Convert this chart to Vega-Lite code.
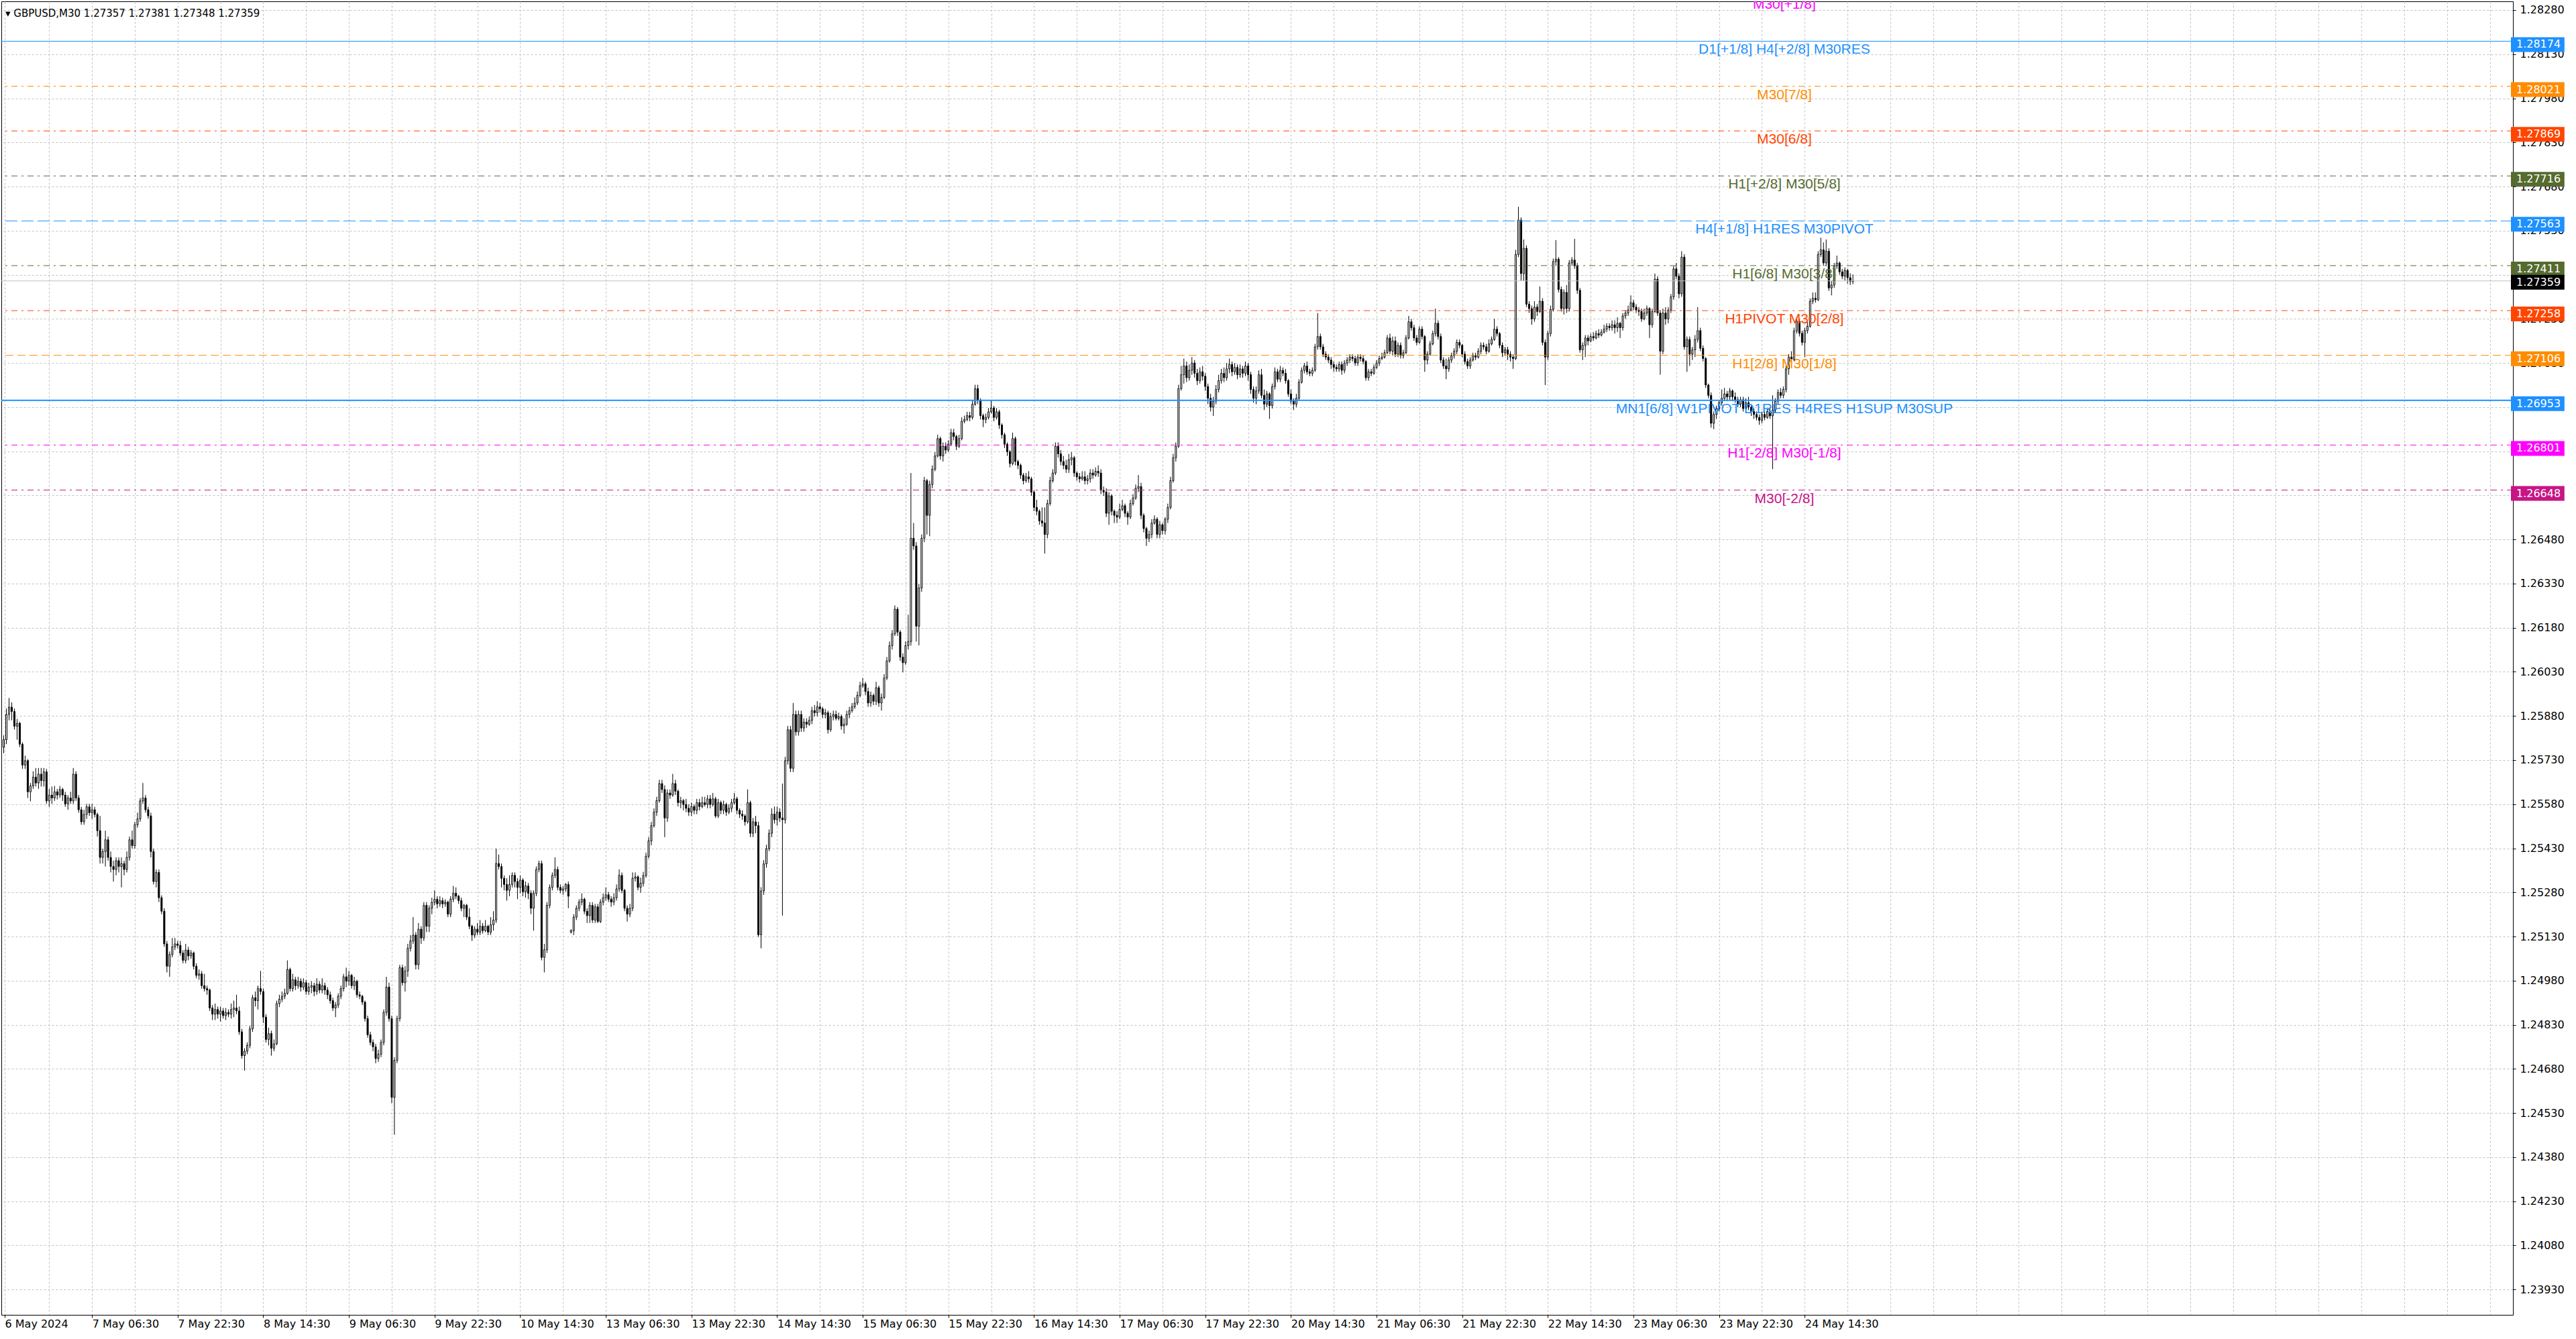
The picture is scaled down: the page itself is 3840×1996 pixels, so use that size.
{
  "$schema": "https://vega.github.io/schema/vega-lite/v6.json",
  "width": 3744,
  "height": 1958,
  "autosize": {"type": "none"},
  "padding": {"left": 2, "top": 2, "right": 94, "bottom": 36},
  "background": "#ffffff",
  "config": {"view": {"stroke": "#000000", "strokeWidth": 1}},
  "title": {"text": "▾ GBPUSD,M30  1.27357 1.27381 1.27348 1.27359", "anchor": "start", "frame": "group", "orient": "top", "offset": -24, "dy": 14, "baseline": "alphabetic", "font": "DejaVu Sans", "fontSize": 15, "fontWeight": "normal", "color": "#000000", "dx": 6},
  "datasets": {
    "levels": [
      {"p": 1.28327, "label": "M30[+1/8]"},
      {"p": 1.28174, "label": "D1[+1/8] H4[+2/8] M30RES"},
      {"p": 1.28021, "label": "M30[7/8]"},
      {"p": 1.27869, "label": "M30[6/8]"},
      {"p": 1.27716, "label": "H1[+2/8] M30[5/8]"},
      {"p": 1.27563, "label": "H4[+1/8] H1RES M30PIVOT"},
      {"p": 1.27411, "label": "H1[6/8] M30[3/8]"},
      {"p": 1.27258, "label": "H1PIVOT M30[2/8]"},
      {"p": 1.27106, "label": "H1[2/8] M30[1/8]"},
      {"p": 1.26953, "label": "MN1[6/8] W1PIVOT D1RES H4RES H1SUP M30SUP"},
      {"p": 1.26801, "label": "H1[-2/8] M30[-1/8]"},
      {"p": 1.26648, "label": "M30[-2/8]"}
    ],
    "bid": [{"p": 1.27359}]
  },
  "layer": [
    {
      "data": {
        "values": "i,o,h,l,c\n0,1.25774,1.25814,1.25753,1.25799\n1,1.25799,1.25905,1.25784,1.25885\n2,1.25885,1.25941,1.25865,1.25910\n3,1.25910,1.25926,1.25865,1.25895\n4,1.25895,1.25905,1.25834,1.25845\n5,1.25845,1.25870,1.25799,1.25855\n6,1.25855,1.25860,1.25774,1.25784\n7,1.25784,1.25790,1.25700,1.25713\n8,1.25713,1.25745,1.25700,1.25728\n9,1.25728,1.25733,1.25601,1.25622\n10,1.25622,1.25652,1.25590,1.25642\n11,1.25642,1.25692,1.25632,1.25672\n12,1.25672,1.25703,1.25640,1.25652\n13,1.25652,1.25703,1.25632,1.25682\n14,1.25682,1.25703,1.25640,1.25660\n15,1.25660,1.25703,1.25640,1.25690\n16,1.25690,1.25700,1.25581,1.25591\n17,1.25591,1.25632,1.25571,1.25611\n18,1.25611,1.25640,1.25581,1.25601\n19,1.25601,1.25642,1.25591,1.25622\n20,1.25622,1.25632,1.25596,1.25611\n21,1.25611,1.25642,1.25601,1.25630\n22,1.25630,1.25636,1.25591,1.25611\n23,1.25611,1.25622,1.25571,1.25581\n24,1.25581,1.25611,1.25561,1.25601\n25,1.25601,1.25622,1.25581,1.25591\n26,1.25591,1.25703,1.25581,1.25682\n27,1.25682,1.25692,1.25591,1.25601\n28,1.25601,1.25611,1.25551,1.25561\n29,1.25561,1.25571,1.25510,1.25520\n30,1.25520,1.25561,1.25510,1.25545\n31,1.25545,1.25581,1.25530,1.25571\n32,1.25571,1.25581,1.25540,1.25551\n33,1.25551,1.25581,1.25530,1.25561\n34,1.25561,1.25571,1.25535,1.25545\n35,1.25545,1.25551,1.25470,1.25490\n36,1.25490,1.25540,1.25378,1.25399\n37,1.25399,1.25429,1.25378,1.25419\n38,1.25419,1.25490,1.25368,1.25459\n39,1.25459,1.25470,1.25388,1.25399\n40,1.25399,1.25419,1.25348,1.25368\n41,1.25368,1.25388,1.25317,1.25358\n42,1.25358,1.25399,1.25338,1.25388\n43,1.25388,1.25399,1.25348,1.25368\n44,1.25368,1.25399,1.25297,1.25378\n45,1.25378,1.25388,1.25338,1.25358\n46,1.25358,1.25419,1.25348,1.25399\n47,1.25399,1.25470,1.25388,1.25459\n48,1.25459,1.25490,1.25429,1.25439\n49,1.25439,1.25520,1.25429,1.25510\n50,1.25510,1.25551,1.25500,1.25530\n51,1.25530,1.25601,1.25520,1.25591\n52,1.25591,1.25652,1.25581,1.25601\n53,1.25601,1.25611,1.25551,1.25561\n54,1.25561,1.25571,1.25530,1.25540\n55,1.25540,1.25551,1.25399,1.25419\n56,1.25419,1.25429,1.25307,1.25317\n57,1.25317,1.25358,1.25297,1.25348\n58,1.25348,1.25358,1.25247,1.25262\n59,1.25262,1.25270,1.25206,1.25216\n60,1.25216,1.25226,1.25095,1.25105\n61,1.25105,1.25115,1.25008,1.25029\n62,1.25029,1.25079,1.24993,1.25069\n63,1.25069,1.25125,1.25059,1.25095\n64,1.25095,1.25125,1.25084,1.25105\n65,1.25105,1.25115,1.25090,1.25100\n66,1.25100,1.25115,1.25064,1.25074\n67,1.25074,1.25084,1.25039,1.25049\n68,1.25049,1.25105,1.25039,1.25084\n69,1.25084,1.25095,1.25049,1.25064\n70,1.25064,1.25084,1.25054,1.25074\n71,1.25074,1.25079,1.25018,1.25029\n72,1.25029,1.25039,1.24988,1.24998\n73,1.24998,1.25018,1.24983,1.25003\n74,1.25003,1.25013,1.24953,1.24963\n75,1.24963,1.25003,1.24943,1.24953\n76,1.24953,1.24963,1.24932,1.24948\n77,1.24948,1.24953,1.24877,1.24887\n78,1.24887,1.24897,1.24846,1.24866\n79,1.24866,1.24902,1.24846,1.24882\n80,1.24882,1.24892,1.24851,1.24866\n81,1.24866,1.24892,1.24841,1.24877\n82,1.24877,1.24887,1.24851,1.24861\n83,1.24861,1.24887,1.24846,1.24872\n84,1.24872,1.24882,1.24856,1.24866\n85,1.24866,1.24902,1.24851,1.24882\n86,1.24882,1.24912,1.24856,1.24887\n87,1.24887,1.24932,1.24866,1.24877\n88,1.24877,1.24892,1.24796,1.24806\n89,1.24806,1.24816,1.24715,1.24725\n90,1.24725,1.24750,1.24674,1.24740\n91,1.24740,1.24770,1.24730,1.24760\n92,1.24760,1.24826,1.24750,1.24816\n93,1.24816,1.24932,1.24806,1.24922\n94,1.24922,1.24943,1.24892,1.24912\n95,1.24912,1.24963,1.24882,1.24953\n96,1.24953,1.25013,1.24932,1.24943\n97,1.24943,1.24953,1.24836,1.24856\n98,1.24856,1.24866,1.24770,1.24780\n99,1.24780,1.24820,1.24760,1.24800\n100,1.24800,1.24810,1.24725,1.24750\n101,1.24750,1.24780,1.24740,1.24765\n102,1.24765,1.24912,1.24760,1.24902\n103,1.24902,1.24932,1.24890,1.24917\n104,1.24917,1.24943,1.24907,1.24927\n105,1.24927,1.24953,1.24917,1.24937\n106,1.24937,1.25049,1.24932,1.25018\n107,1.25018,1.25024,1.24943,1.24953\n108,1.24953,1.25003,1.24943,1.24983\n109,1.24983,1.24993,1.24948,1.24963\n110,1.24963,1.24993,1.24953,1.24978\n111,1.24978,1.24988,1.24943,1.24958\n112,1.24958,1.24988,1.24948,1.24973\n113,1.24973,1.24983,1.24932,1.24943\n114,1.24943,1.24973,1.24932,1.24958\n115,1.24958,1.24978,1.24937,1.24963\n116,1.24963,1.24973,1.24927,1.24943\n117,1.24943,1.24988,1.24932,1.24968\n118,1.24968,1.24978,1.24937,1.24948\n119,1.24948,1.24988,1.24937,1.24963\n120,1.24963,1.24973,1.24932,1.24948\n121,1.24948,1.24958,1.24917,1.24932\n122,1.24932,1.24943,1.24902,1.24912\n123,1.24912,1.24922,1.24877,1.24887\n124,1.24887,1.24907,1.24856,1.24897\n125,1.24897,1.24937,1.24887,1.24927\n126,1.24927,1.24963,1.24917,1.24953\n127,1.24953,1.25003,1.24943,1.24993\n128,1.24993,1.25024,1.24958,1.24978\n129,1.24978,1.25013,1.24963,1.24998\n130,1.24998,1.25003,1.24953,1.24963\n131,1.24963,1.24993,1.24948,1.24978\n132,1.24978,1.24983,1.24922,1.24932\n133,1.24932,1.24943,1.24917,1.24927\n134,1.24927,1.24932,1.24897,1.24907\n135,1.24907,1.24912,1.24841,1.24851\n136,1.24851,1.24861,1.24786,1.24796\n137,1.24796,1.24806,1.24760,1.24770\n138,1.24770,1.24780,1.24740,1.24755\n139,1.24755,1.24765,1.24699,1.24715\n140,1.24715,1.24745,1.24704,1.24730\n141,1.24730,1.24780,1.24720,1.24770\n142,1.24770,1.24882,1.24760,1.24872\n143,1.24872,1.24993,1.24861,1.24958\n144,1.24958,1.24973,1.24841,1.24851\n145,1.24851,1.24861,1.24563,1.24583\n146,1.24583,1.24720,1.24456,1.24709\n147,1.24709,1.24861,1.24699,1.24851\n148,1.24851,1.25034,1.24841,1.25024\n149,1.25024,1.25034,1.24963,1.24973\n150,1.24973,1.25029,1.24943,1.25013\n151,1.25013,1.25105,1.24993,1.25090\n152,1.25090,1.25135,1.25079,1.25115\n153,1.25115,1.25196,1.25105,1.25135\n154,1.25135,1.25145,1.25018,1.25034\n155,1.25034,1.25176,1.25018,1.25155\n156,1.25155,1.25165,1.25105,1.25125\n157,1.25125,1.25247,1.25115,1.25236\n158,1.25236,1.25247,1.25145,1.25165\n159,1.25165,1.25236,1.25145,1.25226\n160,1.25226,1.25262,1.25206,1.25246\n161,1.25246,1.25287,1.25236,1.25257\n162,1.25257,1.25267,1.25226,1.25241\n163,1.25241,1.25267,1.25231,1.25252\n164,1.25252,1.25262,1.25226,1.25241\n165,1.25241,1.25257,1.25231,1.25247\n166,1.25247,1.25252,1.25196,1.25206\n167,1.25206,1.25267,1.25196,1.25257\n168,1.25257,1.25302,1.25247,1.25277\n169,1.25277,1.25297,1.25257,1.25267\n170,1.25267,1.25272,1.25241,1.25252\n171,1.25252,1.25262,1.25216,1.25226\n172,1.25226,1.25241,1.25196,1.25236\n173,1.25236,1.25241,1.25186,1.25196\n174,1.25196,1.25226,1.25155,1.25165\n175,1.25165,1.25170,1.25115,1.25135\n176,1.25135,1.25165,1.25125,1.25155\n177,1.25155,1.25176,1.25135,1.25145\n178,1.25145,1.25186,1.25135,1.25165\n179,1.25165,1.25176,1.25140,1.25150\n180,1.25150,1.25186,1.25145,1.25165\n181,1.25165,1.25170,1.25135,1.25145\n182,1.25145,1.25196,1.25135,1.25170\n183,1.25170,1.25216,1.25150,1.25186\n184,1.25186,1.25429,1.25176,1.25378\n185,1.25378,1.25409,1.25358,1.25368\n186,1.25368,1.25378,1.25297,1.25328\n187,1.25328,1.25338,1.25287,1.25307\n188,1.25307,1.25328,1.25252,1.25287\n189,1.25287,1.25338,1.25267,1.25307\n190,1.25307,1.25348,1.25297,1.25338\n191,1.25338,1.25348,1.25297,1.25317\n192,1.25317,1.25328,1.25257,1.25297\n193,1.25297,1.25338,1.25277,1.25322\n194,1.25322,1.25328,1.25267,1.25282\n195,1.25282,1.25317,1.25262,1.25302\n196,1.25302,1.25312,1.25257,1.25277\n197,1.25277,1.25287,1.25206,1.25226\n198,1.25226,1.25287,1.25150,1.25277\n199,1.25277,1.25368,1.25267,1.25358\n200,1.25358,1.25388,1.25348,1.25378\n201,1.25378,1.25388,1.25049,1.25059\n202,1.25059,1.25105,1.25008,1.25085\n203,1.25085,1.25247,1.25074,1.25236\n204,1.25236,1.25307,1.25226,1.25297\n205,1.25297,1.25348,1.25287,1.25338\n206,1.25338,1.25399,1.25328,1.25358\n207,1.25358,1.25368,1.25287,1.25297\n208,1.25297,1.25307,1.25277,1.25287\n209,1.25287,1.25302,1.25272,1.25292\n210,1.25292,1.25312,1.25282,1.25307\n211,1.25307,1.25317,1.25226,1.25267\n212,1.25145,1.25155,1.25140,1.25150\n213,1.25150,1.25206,1.25135,1.25196\n214,1.25196,1.25236,1.25186,1.25226\n215,1.25226,1.25257,1.25216,1.25247\n216,1.25247,1.25277,1.25236,1.25257\n217,1.25257,1.25262,1.25206,1.25216\n218,1.25216,1.25226,1.25176,1.25201\n219,1.25201,1.25247,1.25176,1.25236\n220,1.25236,1.25247,1.25176,1.25186\n221,1.25186,1.25241,1.25176,1.25231\n222,1.25231,1.25241,1.25176,1.25181\n223,1.25181,1.25257,1.25176,1.25247\n224,1.25247,1.25277,1.25236,1.25262\n225,1.25262,1.25297,1.25252,1.25272\n226,1.25272,1.25282,1.25247,1.25257\n227,1.25257,1.25267,1.25231,1.25247\n228,1.25247,1.25277,1.25236,1.25262\n229,1.25262,1.25307,1.25252,1.25292\n230,1.25292,1.25358,1.25282,1.25338\n231,1.25338,1.25348,1.25277,1.25287\n232,1.25287,1.25292,1.25216,1.25226\n233,1.25226,1.25236,1.25181,1.25206\n234,1.25206,1.25241,1.25196,1.25226\n235,1.25226,1.25348,1.25216,1.25328\n236,1.25328,1.25348,1.25317,1.25333\n237,1.25333,1.25338,1.25287,1.25297\n238,1.25297,1.25330,1.25279,1.25311\n239,1.25311,1.25350,1.25300,1.25337\n240,1.25337,1.25415,1.25330,1.25403\n241,1.25403,1.25468,1.25395,1.25455\n242,1.25455,1.25520,1.25440,1.25507\n243,1.25507,1.25566,1.25500,1.25553\n244,1.25553,1.25605,1.25540,1.25592\n245,1.25592,1.25663,1.25585,1.25650\n246,1.25650,1.25663,1.25618,1.25630\n247,1.25630,1.25644,1.25468,1.25533\n248,1.25533,1.25630,1.25520,1.25618\n249,1.25618,1.25630,1.25598,1.25611\n250,1.25611,1.25683,1.25605,1.25650\n251,1.25650,1.25663,1.25611,1.25624\n252,1.25624,1.25630,1.25572,1.25585\n253,1.25585,1.25605,1.25566,1.25592\n254,1.25592,1.25598,1.25559,1.25579\n255,1.25579,1.25598,1.25553,1.25566\n256,1.25566,1.25579,1.25540,1.25553\n257,1.25553,1.25585,1.25540,1.25572\n258,1.25572,1.25579,1.25546,1.25559\n259,1.25559,1.25598,1.25546,1.25585\n260,1.25585,1.25598,1.25559,1.25572\n261,1.25572,1.25605,1.25566,1.25585\n262,1.25585,1.25605,1.25572,1.25579\n263,1.25579,1.25611,1.25566,1.25598\n264,1.25598,1.25611,1.25566,1.25579\n265,1.25579,1.25618,1.25572,1.25598\n266,1.25598,1.25605,1.25533,1.25540\n267,1.25540,1.25598,1.25533,1.25585\n268,1.25585,1.25592,1.25546,1.25559\n269,1.25559,1.25592,1.25546,1.25579\n270,1.25579,1.25585,1.25540,1.25553\n271,1.25553,1.25579,1.25546,1.25566\n272,1.25566,1.25598,1.25553,1.25585\n273,1.25585,1.25618,1.25579,1.25598\n274,1.25598,1.25605,1.25546,1.25559\n275,1.25559,1.25566,1.25533,1.25546\n276,1.25546,1.25559,1.25527,1.25540\n277,1.25540,1.25546,1.25507,1.25520\n278,1.25520,1.25630,1.25514,1.25585\n279,1.25585,1.25592,1.25468,1.25481\n280,1.25481,1.25533,1.25468,1.25520\n281,1.25520,1.25540,1.25481,1.25507\n282,1.25507,1.25520,1.25129,1.25136\n283,1.25136,1.25298,1.25090,1.25285\n284,1.25285,1.25390,1.25272,1.25377\n285,1.25377,1.25442,1.25364,1.25429\n286,1.25429,1.25494,1.25420,1.25481\n287,1.25481,1.25566,1.25468,1.25546\n288,1.25546,1.25572,1.25514,1.25527\n289,1.25527,1.25572,1.25507,1.25553\n290,1.25553,1.25566,1.25520,1.25533\n291,1.25533,1.25650,1.25201,1.25527\n292,1.25527,1.25741,1.25514,1.25728\n293,1.25728,1.25846,1.25715,1.25833\n294,1.25833,1.25846,1.25689,1.25702\n295,1.25702,1.25924,1.25689,1.25885\n296,1.25885,1.25898,1.25813,1.25826\n297,1.25826,1.25898,1.25813,1.25885\n298,1.25885,1.25898,1.25826,1.25839\n299,1.25839,1.25872,1.25826,1.25859\n300,1.25859,1.25872,1.25839,1.25852\n301,1.25852,1.25878,1.25846,1.25865\n302,1.25865,1.25911,1.25852,1.25898\n303,1.25898,1.25917,1.25878,1.25891\n304,1.25891,1.25930,1.25878,1.25911\n305,1.25911,1.25924,1.25891,1.25904\n306,1.25904,1.25911,1.25872,1.25885\n307,1.25885,1.25904,1.25872,1.25891\n308,1.25891,1.25898,1.25820,1.25833\n309,1.25833,1.25891,1.25826,1.25878\n310,1.25878,1.25898,1.25865,1.25885\n311,1.25885,1.25898,1.25865,1.25872\n312,1.25872,1.25891,1.25865,1.25878\n313,1.25878,1.25885,1.25833,1.25846\n314,1.25846,1.25872,1.25820,1.25852\n315,1.25852,1.25898,1.25846,1.25885\n316,1.25885,1.25911,1.25872,1.25898\n317,1.25898,1.25924,1.25891,1.25911\n318,1.25911,1.25943,1.25904,1.25924\n319,1.25924,1.25963,1.25917,1.25950\n320,1.25950,1.25996,1.25943,1.25983\n321,1.25983,1.26009,1.25976,1.25989\n322,1.25989,1.25996,1.25950,1.25963\n323,1.25963,1.25976,1.25911,1.25924\n324,1.25924,1.25963,1.25911,1.25950\n325,1.25950,1.25956,1.25917,1.25930\n326,1.25930,1.25996,1.25917,1.25976\n327,1.25976,1.25983,1.25911,1.25924\n328,1.25924,1.25956,1.25898,1.25943\n329,1.25943,1.26022,1.25937,1.26009\n330,1.26009,1.26080,1.26002,1.26067\n331,1.26067,1.26133,1.26061,1.26119\n332,1.26119,1.26172,1.26106,1.26159\n333,1.26159,1.26256,1.26152,1.26243\n334,1.26243,1.26250,1.26152,1.26165\n335,1.26165,1.26172,1.26067,1.26080\n336,1.26080,1.26093,1.26028,1.26061\n337,1.26061,1.26133,1.26054,1.26119\n338,1.26119,1.26224,1.26106,1.26133\n339,1.26133,1.26706,1.26119,1.26484\n340,1.26484,1.26536,1.26445,1.26458\n341,1.26458,1.26471,1.26133,1.26185\n342,1.26185,1.26328,1.26120,1.26315\n343,1.26315,1.26497,1.26302,1.26484\n344,1.26484,1.26693,1.26471,1.26680\n345,1.26680,1.26686,1.26497,1.26562\n346,1.26562,1.26680,1.26491,1.26667\n347,1.26667,1.26732,1.26654,1.26719\n348,1.26719,1.26777,1.26712,1.26764\n349,1.26764,1.26836,1.26758,1.26823\n350,1.26823,1.26830,1.26751,1.26764\n351,1.26764,1.26810,1.26745,1.26797\n352,1.26797,1.26810,1.26771,1.26784\n353,1.26784,1.26817,1.26777,1.26804\n354,1.26804,1.26856,1.26797,1.26843\n355,1.26843,1.26856,1.26817,1.26830\n356,1.26830,1.26836,1.26784,1.26797\n357,1.26797,1.26836,1.26791,1.26823\n358,1.26823,1.26895,1.26817,1.26882\n359,1.26882,1.26901,1.26875,1.26888\n360,1.26888,1.26914,1.26882,1.26901\n361,1.26901,1.26914,1.26882,1.26895\n362,1.26895,1.26953,1.26888,1.26940\n363,1.26940,1.27006,1.26934,1.26993\n364,1.26993,1.27006,1.26940,1.26953\n365,1.26953,1.26960,1.26888,1.26901\n366,1.26901,1.26908,1.26862,1.26888\n367,1.26888,1.26908,1.26875,1.26895\n368,1.26895,1.26927,1.26888,1.26914\n369,1.26914,1.26953,1.26908,1.26927\n370,1.26927,1.26934,1.26882,1.26895\n371,1.26895,1.26927,1.26888,1.26914\n372,1.26914,1.26921,1.26856,1.26869\n373,1.26869,1.26875,1.26823,1.26836\n374,1.26836,1.26843,1.26791,1.26804\n375,1.26804,1.26810,1.26764,1.26778\n376,1.26778,1.26784,1.26725,1.26738\n377,1.26738,1.26843,1.26732,1.26823\n378,1.26823,1.26830,1.26732,1.26745\n379,1.26745,1.26751,1.26719,1.26732\n380,1.26732,1.26738,1.26686,1.26699\n381,1.26699,1.26706,1.26667,1.26680\n382,1.26680,1.26706,1.26673,1.26693\n383,1.26693,1.26712,1.26673,1.26686\n384,1.26686,1.26693,1.26628,1.26641\n385,1.26641,1.26647,1.26576,1.26589\n386,1.26589,1.26615,1.26562,1.26576\n387,1.26576,1.26582,1.26530,1.26543\n388,1.26543,1.26589,1.26523,1.26536\n389,1.26536,1.26589,1.26432,1.26497\n390,1.26497,1.26615,1.26484,1.26602\n391,1.26602,1.26693,1.26595,1.26680\n392,1.26680,1.26719,1.26673,1.26706\n393,1.26706,1.26810,1.26699,1.26797\n394,1.26797,1.26810,1.26758,1.26771\n395,1.26771,1.26784,1.26732,1.26745\n396,1.26745,1.26764,1.26719,1.26732\n397,1.26732,1.26751,1.26706,1.26719\n398,1.26719,1.26771,1.26706,1.26751\n399,1.26751,1.26777,1.26732,1.26758\n400,1.26758,1.26764,1.26693,1.26706\n401,1.26706,1.26712,1.26680,1.26693\n402,1.26693,1.26706,1.26673,1.26686\n403,1.26686,1.26712,1.26680,1.26693\n404,1.26693,1.26712,1.26667,1.26680\n405,1.26680,1.26699,1.26667,1.26686\n406,1.26686,1.26719,1.26673,1.26706\n407,1.26706,1.26719,1.26686,1.26699\n408,1.26699,1.26725,1.26693,1.26712\n409,1.26712,1.26732,1.26693,1.26706\n410,1.26706,1.26719,1.26634,1.26647\n411,1.26647,1.26660,1.26628,1.26641\n412,1.26641,1.26654,1.26556,1.26569\n413,1.26569,1.26641,1.26530,1.26628\n414,1.26628,1.26634,1.26562,1.26576\n415,1.26576,1.26582,1.26536,1.26562\n416,1.26562,1.26576,1.26536,1.26556\n417,1.26556,1.26602,1.26549,1.26582\n418,1.26582,1.26615,1.26576,1.26595\n419,1.26595,1.26602,1.26556,1.26569\n420,1.26569,1.26576,1.26530,1.26556\n421,1.26556,1.26615,1.26549,1.26602\n422,1.26602,1.26634,1.26595,1.26621\n423,1.26621,1.26667,1.26615,1.26654\n424,1.26654,1.26699,1.26641,1.26660\n425,1.26660,1.26673,1.26549,1.26562\n426,1.26562,1.26569,1.26504,1.26517\n427,1.26517,1.26523,1.26458,1.26484\n428,1.26484,1.26510,1.26471,1.26497\n429,1.26497,1.26549,1.26484,1.26536\n430,1.26536,1.26562,1.26530,1.26549\n431,1.26549,1.26556,1.26484,1.26497\n432,1.26497,1.26543,1.26484,1.26530\n433,1.26530,1.26536,1.26497,1.26510\n434,1.26510,1.26556,1.26497,1.26549\n435,1.26549,1.26602,1.26536,1.26589\n436,1.26589,1.26693,1.26582,1.26680\n437,1.26680,1.26771,1.26673,1.26758\n438,1.26758,1.26810,1.26745,1.26797\n439,1.26797,1.27006,1.26791,1.26993\n440,1.26993,1.27070,1.26986,1.27040\n441,1.27040,1.27095,1.27010,1.27070\n442,1.27070,1.27085,1.27015,1.27030\n443,1.27030,1.27075,1.27020,1.27055\n444,1.27055,1.27100,1.27040,1.27080\n445,1.27080,1.27090,1.27030,1.27045\n446,1.27045,1.27060,1.27005,1.27020\n447,1.27020,1.27065,1.27010,1.27050\n448,1.27050,1.27070,1.27020,1.27035\n449,1.27035,1.27045,1.26985,1.27000\n450,1.27000,1.27010,1.26940,1.26960\n451,1.26960,1.26975,1.26915,1.26930\n452,1.26930,1.26965,1.26900,1.26950\n453,1.26950,1.27005,1.26940,1.26990\n454,1.26990,1.27040,1.26980,1.27020\n455,1.27020,1.27060,1.27010,1.27045\n456,1.27045,1.27065,1.27015,1.27030\n457,1.27030,1.27080,1.27020,1.27060\n458,1.27060,1.27095,1.27045,1.27075\n459,1.27075,1.27085,1.27035,1.27050\n460,1.27050,1.27080,1.27040,1.27065\n461,1.27065,1.27075,1.27025,1.27040\n462,1.27040,1.27075,1.27030,1.27060\n463,1.27060,1.27070,1.27030,1.27045\n464,1.27045,1.27085,1.27035,1.27070\n465,1.27070,1.27080,1.27020,1.27040\n466,1.27040,1.27050,1.26975,1.26990\n467,1.26990,1.27000,1.26945,1.26960\n468,1.26960,1.27000,1.26940,1.26985\n469,1.26985,1.27055,1.26975,1.27040\n470,1.27040,1.27060,1.26960,1.26970\n471,1.26970,1.26990,1.26920,1.26940\n472,1.26940,1.26985,1.26930,1.26975\n473,1.26975,1.26980,1.26890,1.26935\n474,1.26935,1.27010,1.26925,1.27000\n475,1.27000,1.27065,1.26990,1.27050\n476,1.27050,1.27060,1.27015,1.27025\n477,1.27025,1.27070,1.27015,1.27055\n478,1.27055,1.27065,1.27035,1.27045\n479,1.27045,1.27060,1.27010,1.27020\n480,1.27020,1.27025,1.26965,1.26975\n481,1.26975,1.26990,1.26940,1.26950\n482,1.26950,1.26960,1.26920,1.26940\n483,1.26940,1.26975,1.26930,1.26960\n484,1.26960,1.27025,1.26955,1.27015\n485,1.27015,1.27065,1.27010,1.27055\n486,1.27055,1.27080,1.27045,1.27070\n487,1.27070,1.27085,1.27040,1.27050\n488,1.27050,1.27060,1.27035,1.27045\n489,1.27045,1.27065,1.27035,1.27055\n490,1.27055,1.27145,1.27050,1.27135\n491,1.27135,1.27250,1.27125,1.27170\n492,1.27170,1.27180,1.27125,1.27135\n493,1.27135,1.27145,1.27100,1.27110\n494,1.27110,1.27120,1.27090,1.27100\n495,1.27100,1.27110,1.27080,1.27090\n496,1.27090,1.27100,1.27060,1.27075\n497,1.27075,1.27085,1.27050,1.27065\n498,1.27065,1.27075,1.27050,1.27060\n499,1.27060,1.27085,1.27050,1.27075\n500,1.27075,1.27085,1.27040,1.27055\n501,1.27055,1.27090,1.27045,1.27080\n502,1.27080,1.27100,1.27070,1.27090\n503,1.27090,1.27110,1.27080,1.27100\n504,1.27100,1.27110,1.27085,1.27095\n505,1.27095,1.27105,1.27070,1.27080\n506,1.27080,1.27110,1.27070,1.27100\n507,1.27100,1.27110,1.27085,1.27095\n508,1.27095,1.27105,1.27075,1.27085\n509,1.27085,1.27090,1.27020,1.27030\n510,1.27030,1.27060,1.27020,1.27050\n511,1.27050,1.27060,1.27035,1.27045\n512,1.27045,1.27075,1.27040,1.27065\n513,1.27065,1.27090,1.27060,1.27080\n514,1.27080,1.27105,1.27070,1.27095\n515,1.27095,1.27115,1.27090,1.27100\n516,1.27100,1.27125,1.27095,1.27115\n517,1.27115,1.27175,1.27110,1.27165\n518,1.27165,1.27180,1.27110,1.27120\n519,1.27120,1.27170,1.27105,1.27155\n520,1.27155,1.27170,1.27100,1.27110\n521,1.27110,1.27150,1.27100,1.27140\n522,1.27140,1.27150,1.27095,1.27105\n523,1.27105,1.27125,1.27095,1.27115\n524,1.27115,1.27175,1.27110,1.27165\n525,1.27165,1.27240,1.27160,1.27220\n526,1.27220,1.27230,1.27190,1.27200\n527,1.27200,1.27210,1.27155,1.27165\n528,1.27165,1.27175,1.27140,1.27150\n529,1.27150,1.27205,1.27145,1.27195\n530,1.27195,1.27205,1.27160,1.27170\n531,1.27170,1.27175,1.27050,1.27090\n532,1.27090,1.27120,1.27075,1.27110\n533,1.27110,1.27155,1.27105,1.27145\n534,1.27145,1.27190,1.27140,1.27180\n535,1.27180,1.27265,1.27170,1.27215\n536,1.27215,1.27225,1.27160,1.27170\n537,1.27170,1.27180,1.27080,1.27090\n538,1.27090,1.27100,1.27060,1.27070\n539,1.27070,1.27095,1.27025,1.27060\n540,1.27060,1.27100,1.27050,1.27090\n541,1.27090,1.27115,1.27080,1.27105\n542,1.27105,1.27130,1.27095,1.27120\n543,1.27120,1.27160,1.27110,1.27150\n544,1.27150,1.27160,1.27130,1.27140\n545,1.27140,1.27145,1.27100,1.27110\n546,1.27110,1.27120,1.27075,1.27085\n547,1.27085,1.27095,1.27060,1.27070\n548,1.27070,1.27100,1.27060,1.27090\n549,1.27090,1.27115,1.27085,1.27105\n550,1.27105,1.27115,1.27090,1.27100\n551,1.27100,1.27130,1.27095,1.27120\n552,1.27120,1.27150,1.27110,1.27140\n553,1.27140,1.27150,1.27125,1.27135\n554,1.27135,1.27145,1.27110,1.27120\n555,1.27120,1.27160,1.27115,1.27145\n556,1.27145,1.27170,1.27140,1.27160\n557,1.27160,1.27230,1.27155,1.27195\n558,1.27195,1.27205,1.27170,1.27180\n559,1.27180,1.27185,1.27130,1.27140\n560,1.27140,1.27150,1.27100,1.27115\n561,1.27115,1.27135,1.27105,1.27125\n562,1.27125,1.27135,1.27090,1.27110\n563,1.27110,1.27120,1.27085,1.27100\n564,1.27100,1.27110,1.27060,1.27095\n565,1.27095,1.27465,1.27090,1.27449\n566,1.27449,1.27611,1.27440,1.27566\n567,1.27566,1.27575,1.27360,1.27384\n568,1.27384,1.27500,1.27360,1.27470\n569,1.27470,1.27480,1.27270,1.27280\n570,1.27280,1.27290,1.27250,1.27265\n571,1.27265,1.27275,1.27210,1.27230\n572,1.27230,1.27290,1.27220,1.27270\n573,1.27270,1.27280,1.27240,1.27255\n574,1.27255,1.27340,1.27250,1.27290\n575,1.27290,1.27300,1.27140,1.27150\n576,1.27150,1.27160,1.27005,1.27100\n577,1.27100,1.27190,1.27090,1.27180\n578,1.27180,1.27275,1.27170,1.27262\n579,1.27262,1.27435,1.27255,1.27425\n580,1.27425,1.27498,1.27410,1.27433\n581,1.27433,1.27440,1.27320,1.27330\n582,1.27330,1.27340,1.27255,1.27265\n583,1.27265,1.27330,1.27245,1.27320\n584,1.27320,1.27345,1.27250,1.27265\n585,1.27265,1.27430,1.27255,1.27420\n586,1.27420,1.27440,1.27410,1.27430\n587,1.27430,1.27502,1.27400,1.27410\n588,1.27410,1.27420,1.27315,1.27327\n589,1.27327,1.27335,1.27115,1.27125\n590,1.27125,1.27150,1.27090,1.27140\n591,1.27140,1.27175,1.27100,1.27165\n592,1.27165,1.27175,1.27140,1.27155\n593,1.27155,1.27180,1.27150,1.27170\n594,1.27170,1.27185,1.27155,1.27165\n595,1.27165,1.27190,1.27160,1.27180\n596,1.27180,1.27195,1.27165,1.27175\n597,1.27175,1.27195,1.27170,1.27185\n598,1.27185,1.27210,1.27180,1.27195\n599,1.27195,1.27215,1.27185,1.27205\n600,1.27205,1.27215,1.27190,1.27200\n601,1.27200,1.27225,1.27190,1.27210\n602,1.27210,1.27225,1.27180,1.27200\n603,1.27200,1.27235,1.27185,1.27215\n604,1.27215,1.27220,1.27165,1.27200\n605,1.27200,1.27250,1.27190,1.27240\n606,1.27240,1.27260,1.27230,1.27250\n607,1.27250,1.27275,1.27240,1.27260\n608,1.27260,1.27310,1.27255,1.27285\n609,1.27285,1.27295,1.27260,1.27270\n610,1.27270,1.27280,1.27250,1.27260\n611,1.27260,1.27270,1.27240,1.27255\n612,1.27255,1.27265,1.27220,1.27230\n613,1.27230,1.27265,1.27225,1.27250\n614,1.27250,1.27275,1.27240,1.27265\n615,1.27265,1.27270,1.27165,1.27210\n616,1.27210,1.27265,1.27200,1.27255\n617,1.27255,1.27384,1.27250,1.27365\n618,1.27365,1.27375,1.27240,1.27250\n619,1.27250,1.27260,1.27040,1.27120\n620,1.27120,1.27265,1.27110,1.27250\n621,1.27250,1.27270,1.27210,1.27230\n622,1.27230,1.27270,1.27215,1.27260\n623,1.27260,1.27315,1.27250,1.27305\n624,1.27305,1.27410,1.27295,1.27400\n625,1.27400,1.27420,1.27365,1.27375\n626,1.27375,1.27385,1.27300,1.27315\n627,1.27315,1.27460,1.27305,1.27440\n628,1.27440,1.27450,1.27125,1.27135\n629,1.27135,1.27170,1.27050,1.27160\n630,1.27160,1.27170,1.27070,1.27110\n631,1.27110,1.27135,1.27090,1.27125\n632,1.27125,1.27175,1.27100,1.27160\n633,1.27160,1.27270,1.27150,1.27190\n634,1.27190,1.27200,1.27120,1.27130\n635,1.27130,1.27140,1.27085,1.27095\n636,1.27095,1.27100,1.26995,1.27005\n637,1.27005,1.27010,1.26960,1.26970\n638,1.26970,1.26980,1.26860,1.26875\n639,1.26875,1.26915,1.26855,1.26905\n640,1.26905,1.26935,1.26890,1.26925\n641,1.26925,1.26955,1.26915,1.26945\n642,1.26945,1.26990,1.26935,1.26960\n643,1.26960,1.26995,1.26950,1.26975\n644,1.26975,1.26985,1.26950,1.26965\n645,1.26965,1.26995,1.26955,1.26985\n646,1.26985,1.26990,1.26950,1.26965\n647,1.26965,1.26980,1.26945,1.26955\n648,1.26955,1.26965,1.26930,1.26940\n649,1.26940,1.26965,1.26930,1.26955\n650,1.26955,1.26965,1.26915,1.26925\n651,1.26925,1.26960,1.26920,1.26945\n652,1.26945,1.26965,1.26920,1.26930\n653,1.26930,1.26940,1.26900,1.26915\n654,1.26915,1.26925,1.26890,1.26905\n655,1.26905,1.26915,1.26885,1.26895\n656,1.26895,1.26905,1.26870,1.26885\n657,1.26885,1.26915,1.26875,1.26905\n658,1.26905,1.26915,1.26885,1.26895\n659,1.26895,1.26925,1.26890,1.26915\n660,1.26915,1.26925,1.26890,1.26900\n661,1.26900,1.26970,1.26719,1.26920\n662,1.26920,1.26960,1.26910,1.26950\n663,1.26950,1.26990,1.26940,1.26980\n664,1.26980,1.26995,1.26960,1.26970\n665,1.26970,1.27000,1.26960,1.26990\n666,1.26990,1.27070,1.26980,1.27060\n667,1.27060,1.27110,1.27040,1.27100\n668,1.27100,1.27120,1.27085,1.27092\n669,1.27092,1.27200,1.27085,1.27189\n670,1.27189,1.27235,1.27180,1.27222\n671,1.27222,1.27230,1.27170,1.27181\n672,1.27181,1.27190,1.27140,1.27150\n673,1.27150,1.27200,1.27100,1.27190\n674,1.27190,1.27220,1.27180,1.27205\n675,1.27205,1.27300,1.27200,1.27290\n676,1.27290,1.27320,1.27280,1.27300\n677,1.27300,1.27320,1.27285,1.27295\n678,1.27295,1.27460,1.27290,1.27449\n679,1.27449,1.27506,1.27440,1.27465\n680,1.27465,1.27490,1.27410,1.27420\n681,1.27420,1.27500,1.27410,1.27460\n682,1.27460,1.27470,1.27325,1.27335\n683,1.27335,1.27360,1.27310,1.27345\n684,1.27345,1.27420,1.27335,1.27410\n685,1.27410,1.27445,1.27400,1.27420\n686,1.27420,1.27425,1.27380,1.27390\n687,1.27390,1.27400,1.27365,1.27375\n688,1.27375,1.27405,1.27360,1.27395\n689,1.27395,1.27400,1.27350,1.27370\n690,1.27370,1.27385,1.27345,1.27357\n691,1.27357,1.27381,1.27348,1.27359",
        "format": {"type": "csv", "parse": {"i": "number", "o": "number", "h": "number", "l": "number", "c": "number"}}
      },
      "encoding": {
        "x": {
          "field": "i", "type": "quantitative",
          "scale": {"domain": [0.375, 936.375], "nice": false, "zero": false},
          "axis": {
            "title": null, "orient": "bottom",
            "values": [0.375, 17, 33, 49, 65, 81, 97, 113, 129, 145, 161, 177, 193, 209, 225, 241, 257, 273, 289, 305, 321, 337, 353, 369, 385, 401, 417, 433, 449, 465, 481, 497, 513, 529, 545, 561, 577, 593, 609, 625, 641, 657, 673, 689, 705, 721, 737, 753, 769, 785, 801, 817, 833, 849, 865, 881, 897, 913, 929],
            "labelExpr": "datum.value < 1 ? '6 May 2024' : ((datum.value <= 673 && (datum.value - 33) % 32 == 0) ? ['7 May 06:30','7 May 22:30','8 May 14:30','9 May 06:30','9 May 22:30','10 May 14:30','13 May 06:30','13 May 22:30','14 May 14:30','15 May 06:30','15 May 22:30','16 May 14:30','17 May 06:30','17 May 22:30','20 May 14:30','21 May 06:30','21 May 22:30','22 May 14:30','23 May 06:30','23 May 22:30','24 May 14:30'][(datum.value - 33) / 32] : '')",
            "labelAlign": "left", "labelBaseline": "top", "labelFont": "DejaVu Sans", "labelFontSize": 16, "labelColor": "#000000",
            "labelPadding": 1, "labelOverlap": false, "labelFlush": false, "labelBound": false,
            "tickSize": 4, "tickColor": "#000000", "tickWidth": 1,
            "tickOpacity": {"condition": {"test": "datum.value < 1 || (datum.value <= 673 && (datum.value - 33) % 32 == 0)", "value": 1}, "value": 0},
            "domainColor": "#000000", "domainWidth": 1,
            "grid": true, "gridColor": "#c0c0c0", "gridDash": [3, 3], "gridWidth": 1
          }
        }
      },
      "layer": [
        {
          "mark": {"type": "rule", "color": "#000000", "strokeWidth": 1},
          "encoding": {
            "y": {
              "field": "l", "type": "quantitative",
              "scale": {"domain": [1.238551, 1.282982], "nice": false, "zero": false},
              "axis": {
                "title": null, "orient": "right",
                "values": [1.2393, 1.2408, 1.2423, 1.2438, 1.2453, 1.2468, 1.2483, 1.2498, 1.2513, 1.2528, 1.2543, 1.2558, 1.2573, 1.2588, 1.2603, 1.2618, 1.2633, 1.2648, 1.2663, 1.2678, 1.2693, 1.2708, 1.2723, 1.2738, 1.2753, 1.2768, 1.2783, 1.2798, 1.2813, 1.2828],
                "format": ".5f",
                "labelFont": "DejaVu Sans", "labelFontSize": 16, "labelColor": "#000000",
                "labelPadding": 6, "labelOverlap": false, "labelFlush": false, "labelBound": false,
                "tickSize": 4, "tickColor": "#000000", "tickWidth": 1,
                "domainColor": "#000000", "domainWidth": 1,
                "grid": true, "gridColor": "#c0c0c0", "gridDash": [3, 3], "gridWidth": 1
              }
            },
            "y2": {"field": "h"}
          }
        },
        {
          "mark": {"type": "bar", "size": 2, "stroke": "#000000", "strokeWidth": 1},
          "encoding": {
            "y": {"field": "o", "type": "quantitative", "scale": {"domain": [1.238551, 1.282982], "nice": false, "zero": false}},
            "y2": {"field": "c"},
            "fill": {"condition": {"test": "datum.c >= datum.o", "value": "#ffffff"}, "value": "#000000"}
          }
        }
      ]
    },
    {
      "data": {"name": "levels"},
      "mark": {"type": "rule", "clip": true},
      "encoding": {
        "y": {"field": "p", "type": "quantitative", "scale": {"domain": [1.238551, 1.282982], "nice": false, "zero": false}},
        "color": {
          "field": "label", "type": "nominal", "legend": null,
          "scale": {
            "domain": ["M30[+1/8]", "D1[+1/8] H4[+2/8] M30RES", "M30[7/8]", "M30[6/8]", "H1[+2/8] M30[5/8]", "H4[+1/8] H1RES M30PIVOT", "H1[6/8] M30[3/8]", "H1PIVOT M30[2/8]", "H1[2/8] M30[1/8]", "MN1[6/8] W1PIVOT D1RES H4RES H1SUP M30SUP", "H1[-2/8] M30[-1/8]", "M30[-2/8]"],
            "range": ["#FF00FF", "#1E90FF", "#FF8C00", "#FF4500", "#556B2F", "#1E90FF", "#556B2F", "#FF4500", "#FF8C00", "#1E90FF", "#FF00FF", "#C71585"]
          }
        },
        "strokeDash": {
          "field": "label", "type": "nominal", "legend": null,
          "scale": {
            "domain": ["M30[+1/8]", "D1[+1/8] H4[+2/8] M30RES", "M30[7/8]", "M30[6/8]", "H1[+2/8] M30[5/8]", "H4[+1/8] H1RES M30PIVOT", "H1[6/8] M30[3/8]", "H1PIVOT M30[2/8]", "H1[2/8] M30[1/8]", "MN1[6/8] W1PIVOT D1RES H4RES H1SUP M30SUP", "H1[-2/8] M30[-1/8]", "M30[-2/8]"],
            "range": [[9, 6, 3, 6], [1, 0], [9, 6, 3, 6], [9, 6, 3, 6], [9, 6, 3, 6], [18, 6], [9, 6, 3, 6], [9, 6, 3, 6], [12, 6], [1, 0], [9, 6, 3, 6], [9, 6, 3, 6]]
          }
        },
        "strokeWidth": {"condition": {"test": "datum.p == 1.26953", "value": 2}, "value": 1}
      }
    },
    {
      "data": {"name": "bid"},
      "mark": {"type": "rule", "color": "#c0c0c0", "strokeWidth": 1},
      "encoding": {
        "y": {"field": "p", "type": "quantitative", "scale": {"domain": [1.238551, 1.282982], "nice": false, "zero": false}}
      }
    },
    {
      "data": {"name": "levels"},
      "mark": {"type": "text", "clip": true, "align": "center", "baseline": "alphabetic", "dy": 19, "font": "Liberation Sans", "fontSize": 21},
      "encoding": {
        "x": {"datum": 665.375, "type": "quantitative", "scale": {"domain": [0.375, 936.375], "nice": false, "zero": false}},
        "y": {"field": "p", "type": "quantitative", "scale": {"domain": [1.238551, 1.282982], "nice": false, "zero": false}},
        "text": {"field": "label", "type": "nominal"},
        "color": {"field": "label", "type": "nominal", "legend": null}
      }
    },
    {
      "data": {"name": "levels"},
      "transform": [{"filter": "datum.p < 1.2829"}],
      "layer": [
        {
          "mark": {"type": "bar", "orient": "horizontal", "size": 22, "yOffset": 5},
          "encoding": {
            "x": {"datum": 936.875, "type": "quantitative", "scale": {"domain": [0.375, 936.375], "nice": false, "zero": false}},
            "x2": {"datum": 956.875},
            "y": {"field": "p", "type": "quantitative", "scale": {"domain": [1.238551, 1.282982], "nice": false, "zero": false}},
            "color": {"field": "label", "type": "nominal", "legend": null}
          }
        },
        {
          "mark": {"type": "text", "align": "left", "baseline": "middle", "font": "DejaVu Sans", "fontSize": 16, "color": "#ffffff", "yOffset": 5},
          "encoding": {
            "x": {"datum": 938.875, "type": "quantitative", "scale": {"domain": [0.375, 936.375], "nice": false, "zero": false}},
            "y": {"field": "p", "type": "quantitative", "scale": {"domain": [1.238551, 1.282982], "nice": false, "zero": false}},
            "text": {"field": "p", "type": "quantitative", "format": ".5f"}
          }
        }
      ]
    },
    {
      "data": {"name": "bid"},
      "layer": [
        {
          "mark": {"type": "bar", "orient": "horizontal", "size": 22, "color": "#000000", "yOffset": 2},
          "encoding": {
            "x": {"datum": 936.875, "type": "quantitative", "scale": {"domain": [0.375, 936.375], "nice": false, "zero": false}},
            "x2": {"datum": 956.875},
            "y": {"field": "p", "type": "quantitative", "scale": {"domain": [1.238551, 1.282982], "nice": false, "zero": false}}
          }
        },
        {
          "mark": {"type": "text", "align": "left", "baseline": "middle", "font": "DejaVu Sans", "fontSize": 16, "color": "#ffffff", "yOffset": 2},
          "encoding": {
            "x": {"datum": 938.875, "type": "quantitative", "scale": {"domain": [0.375, 936.375], "nice": false, "zero": false}},
            "y": {"field": "p", "type": "quantitative", "scale": {"domain": [1.238551, 1.282982], "nice": false, "zero": false}},
            "text": {"field": "p", "type": "quantitative", "format": ".5f"}
          }
        }
      ]
    }
  ]
}
